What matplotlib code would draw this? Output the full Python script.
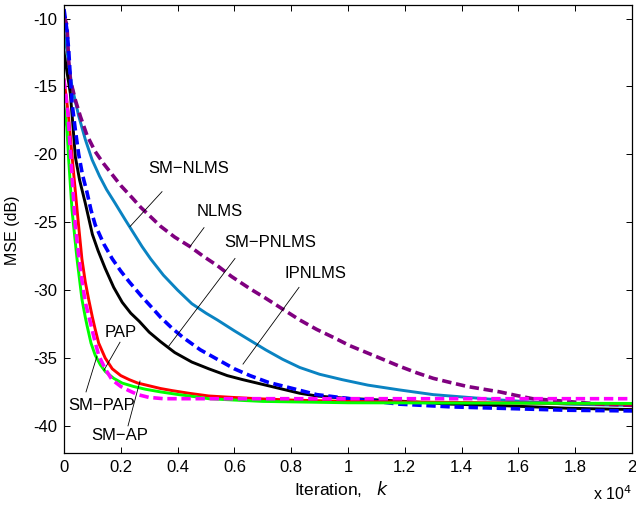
import matplotlib
matplotlib.use("Agg")
import matplotlib.pyplot as plt
from matplotlib.ticker import FuncFormatter

plt.rcParams['font.family'] = ['Liberation Sans', 'DejaVu Sans']
plt.rcParams['axes.unicode_minus'] = False

# ---- data (iterations, MSE in dB) ----
nlms_x = [0, 106, 165, 222, 400, 575, 810, 1100, 1400, 1700, 2000, 2400, 2700, 3000, 3400, 3900, 4440,
          4900, 5400, 5900, 6550, 7100, 7700, 8300, 8900, 9500, 10070, 10650, 11230, 11800, 12430,
          13000, 13590, 14200, 14770, 15350, 15900, 16500, 17100, 17700, 18300, 18870, 19500, 20000]
nlms_y = [-9.8, -10.5, -13.1, -14.5, -16.0, -17.2, -18.6, -19.8, -20.7, -21.5, -22.3, -23.2, -23.9,
          -24.5, -25.3, -26.1, -26.8, -27.5, -28.2, -29.0, -29.9, -30.6, -31.4, -32.2, -32.9, -33.5,
          -34.1, -34.6, -35.1, -35.6, -36.1, -36.5, -36.8, -37.1, -37.3, -37.5, -37.75, -38.0, -38.1,
          -38.2, -38.3, -38.4, -38.45, -38.5]

smnlms_x = [0, 100, 280, 520, 750, 990, 1250, 1500, 1800, 2150, 2450, 2750, 3050, 3500, 4000, 4500,
            5000, 5400, 6000, 6550, 7100, 7700, 8300, 9000, 9800, 10700, 11800, 13000, 14200, 15400,
            16500, 17700, 18800, 20000]
smnlms_y = [-11.0, -12.3, -15.0, -17.2, -18.9, -20.4, -21.6, -22.6, -23.6, -24.8, -25.8, -26.8, -27.7,
            -28.9, -30.0, -31.0, -31.7, -32.2, -33.0, -33.7, -34.4, -35.1, -35.7, -36.2, -36.6, -37.0,
            -37.35, -37.7, -37.9, -38.1, -38.25, -38.4, -38.45, -38.5]

smpnlms_x = [0, 222, 300, 400, 550, 750, 1000, 1200, 1450, 1750, 2050, 2350, 2650, 3000, 3400, 3900,
             4500, 5100, 5750, 6300, 6900, 7700, 8300, 8900, 9800, 10700, 12000, 13600, 15300, 17700,
             20000]
smpnlms_y = [-12.5, -15.5, -17.5, -20.2, -21.9, -23.6, -25.9, -27.1, -28.4, -29.8, -30.9, -31.7, -32.3,
             -33.1, -33.8, -34.6, -35.3, -35.8, -36.3, -36.6, -36.9, -37.3, -37.6, -37.8, -37.95, -38.05,
             -38.2, -38.4, -38.5, -38.7, -38.8]

ipnlms_x = [0, 106, 165, 222, 282, 399, 517, 650, 810, 950, 1100, 1400, 1700, 2000, 2300, 2750, 3100,
            3400, 3800, 4200, 4800, 5400, 6000, 6550, 7200, 7960, 8900, 10070, 11000, 11800, 12700,
            13600, 15250, 17700, 20000]
ipnlms_y = [-9.3, -10.9, -12.3, -14.3, -16.2, -18.2, -20.0, -21.5, -22.8, -24.1, -25.2, -26.6, -27.7,
            -28.6, -29.4, -30.5, -31.3, -32.0, -32.8, -33.5, -34.4, -35.1, -35.8, -36.3, -36.8, -37.2,
            -37.7, -38.0, -38.2, -38.4, -38.5, -38.6, -38.7, -38.85, -38.9]

pap_x = [0, 150, 300, 460, 630, 750, 870, 1000, 1100, 1220, 1450, 1700, 2000, 2300, 2600, 3000, 3400,
         3800, 4400, 5100, 5900, 6800, 8000, 10000, 12500, 15000, 17500, 20000]
pap_y = [-14.5, -17.0, -20.5, -24.1, -27.7, -29.4, -30.7, -32.0, -32.9, -33.9, -35.0, -35.8, -36.3,
         -36.6, -36.85, -37.05, -37.25, -37.4, -37.6, -37.8, -37.9, -38.0, -38.1, -38.2, -38.25, -38.3,
         -38.35, -38.4]

smpap_x = [0, 100, 165, 282, 458, 634, 750, 810, 950, 1100, 1280, 1455, 1750, 2050, 2450, 2860, 3400,
           4040, 4600, 5100, 6000, 7000, 8500, 10000, 20000]
smpap_y = [-16.5, -18.0, -20.4, -24.1, -27.7, -30.7, -32.0, -32.6, -33.9, -34.8, -35.5, -36.0, -36.5,
           -36.85, -37.1, -37.3, -37.5, -37.7, -37.85, -38.0, -38.1, -38.2, -38.25, -38.3, -38.35]

smap_x = [0, 140, 282, 400, 575, 750, 930, 1080, 1220, 1450, 1690, 2000, 2280, 2600, 2980, 3500, 20000]
smap_y = [-14.5, -17.0, -21.6, -25.3, -28.5, -30.9, -32.4, -33.7, -34.8, -35.8, -36.6, -37.1, -37.4,
          -37.7, -37.9, -38.0, -38.0]

x_ticks = [0, 2000, 4000, 6000, 8000, 10000, 12000, 14000, 16000, 18000, 20000]
y_ticks = [-40, -35, -30, -25, -20, -15, -10]

# annotations: label, text position, line start, line end (data coords)
labels = ["SM\u2212NLMS", "NLMS", "SM\u2212PNLMS", "IPNLMS", "PAP", "SM\u2212PAP", "SM\u2212AP"]
label_pos = [(4401, -21.06), (5493, -24.22), (7254, -26.50), (8838, -28.77),
             (2007, -33.10), (1338, -38.53), (1972, -40.70)]
line_start = [(3451, -22.75), (4930, -25.40), (6021, -27.67), (8275, -29.80),
              (1972, -33.84), (775, -37.50), (2254, -40.00)]
line_end = [(2324, -25.32), (4437, -26.79), (3662, -34.20), (6303, -35.45),
            (1408, -35.90), (1162, -34.86), (2676, -36.70)]

# ---- figure ----
W, H = 636, 509
fig = plt.figure(figsize=(W / 100, H / 100), dpi=100)
ax = fig.add_axes([64 / W, 1 - 453 / H, (632 - 64) / W, (453 - 5) / H])

dash = (2.6, 1.3)
ax.plot(smnlms_x, smnlms_y, color='#0a83c2', lw=2.1)
ax.plot(nlms_x, nlms_y, color='#800080', lw=2.6, ls=(0, dash))
ax.plot(smpnlms_x, smpnlms_y, color='black', lw=2.1)
ax.plot(ipnlms_x, ipnlms_y, color='#0000ff', lw=2.6, ls=(0, dash))
ax.plot(pap_x, pap_y, color='#ff0000', lw=2.1)
ax.plot(smpap_x, smpap_y, color='#00ff00', lw=2.1)
ax.plot(smap_x, smap_y, color='#ff00ff', lw=2.6, ls=(0, dash))

for lab, tp, ls_, le in zip(labels, label_pos, line_start, line_end):
    ax.text(tp[0], tp[1], lab, fontsize=12, ha='center', va='center')
    ax.plot([ls_[0], le[0]], [ls_[1], le[1]], color='black', lw=0.6)

ax.set_xlim(0, 20000)
ax.set_ylim(-42, -9)
ax.set_xticks(x_ticks)
ax.set_yticks(y_ticks)
ax.xaxis.set_major_formatter(FuncFormatter(lambda v, p: '%g' % (v / 1e4)))
ax.tick_params(direction='in', top=True, right=True, length=4.5, width=0.7,
               labelsize=12, pad=5)
for s in ax.spines.values():
    s.set_linewidth(0.9)

fig.text(341 / W, 1 - 489 / H, 'Iteration,   $k$', fontsize=12.5, ha='center', va='center')
fig.text(12 / W, 1 - 230 / H, 'MSE (dB)', fontsize=11.5, ha='center', va='center', rotation=90)
fig.text(632 / W, 1 - 494 / H, 'x 10$^4$', fontsize=11.5, ha='right', va='center')

fig.savefig('out.png', dpi=100)
